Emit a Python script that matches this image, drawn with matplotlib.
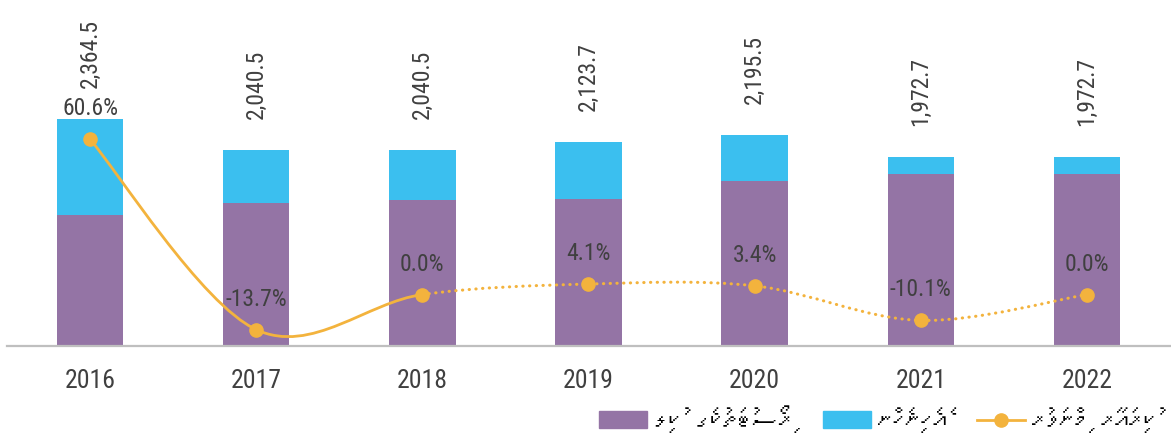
import matplotlib
matplotlib.use('Agg')
import matplotlib.pyplot as plt
from matplotlib import font_manager
from matplotlib.ft2font import FT2Font
from matplotlib.path import Path
from matplotlib.patches import PathPatch, Patch
from matplotlib.lines import Line2D
import numpy as np

# ---------------- data ----------------
years = ['2016', '2017', '2018', '2019', '2020', '2021', '2022']
resort_rent = [1360.0, 1486.0, 1524.0, 1534.0, 1719.0, 1795.0, 1795.0]
other_income = [1004.5, 554.5, 516.5, 589.7, 476.5, 177.7, 177.7]
total_labels = ['2,364.5', '2,040.5', '2,040.5', '2,123.7', '2,195.5', '1,972.7', '1,972.7']
growth = [60.6, -13.7, 0.0, 4.1, 3.4, -10.1, 0.0]
growth_labels = ['60.6%', '-13.7%', '0.0%', '4.1%', '3.4%', '-10.1%', '0.0%']
legend_labels = ['ރިސޯޓުތަކުގެ ކުލި', 'އެހެނިހެން', 'ކުރިއަރާ މިންވަރު']
solid_segments = 2  # first two segments of the growth line are solid, the rest dotted

# ---------------- style ----------------
PURPLE = '#9474A5'
CYAN = '#3BBFEF'
ORANGE = '#F3B33D'
TEXT = '#404040'
AXIS = '#BFBFBF'

names = {f.name for f in font_manager.fontManager.ttflist}
num_font = 'DejaVu Sans'
for cand in ['Roboto Condensed', 'Liberation Sans Narrow', 'Roboto']:
    if cand in names:
        num_font = cand
        break


def find_font_with(ch):
    code = ord(ch)
    for f in font_manager.fontManager.ttflist:
        try:
            if code in FT2Font(f.fname).get_charmap():
                return f.name
        except Exception:
            pass
    return None


thaana_font = find_font_with('\u0786')


def rtl_visual(s):
    # reverse grapheme clusters (base + following Thaana vowel signs)
    clusters = []
    for ch in s:
        if clusters and 0x07A6 <= ord(ch) <= 0x07B0:
            clusters[-1] += ch
        else:
            clusters.append(ch)
    return ''.join(reversed(clusters))


if thaana_font:
    shown_labels = [rtl_visual(t) for t in legend_labels]
    legend_family = [thaana_font, 'DejaVu Sans']
else:
    shown_labels = legend_labels
    legend_family = ['DejaVu Sans']

plt.rcParams['font.family'] = [num_font, 'DejaVu Sans']

W, H = 1171, 435
fig = plt.figure(figsize=(W / 100, H / 100), dpi=100)
ax = fig.add_axes([7 / W, 88 / H, 1163 / W, 342 / H])

x = np.arange(len(years))
ax.bar(x, resort_rent, width=0.4, color=PURPLE, zorder=2)
ax.bar(x, other_income, bottom=resort_rent, width=0.4, color=CYAN, zorder=2)
ax.set_xlim(-0.5, len(years) - 0.5)
ax.set_ylim(0, 3562)
for s in ['left', 'right', 'top']:
    ax.spines[s].set_visible(False)
ax.spines['bottom'].set_color(AXIS)
ax.spines['bottom'].set_linewidth(1.6)
ax.set_yticks([])
ax.set_xticks(x)
ax.set_xticklabels(years)
ax.tick_params(axis='x', length=0, pad=16, labelsize=18.5, labelcolor=TEXT)

tops = np.array(resort_rent) + np.array(other_income)
for xi, t, lab in zip(x, tops, total_labels):
    ax.annotate(lab, (xi, t), xytext=(0, 23), textcoords='offset points',
                rotation=90, ha='center', va='bottom', fontsize=17, color=TEXT)

ax2 = ax.twinx()
ax2.set_ylim(-20.1, 113.5)
ax2.set_axis_off()

pts = np.column_stack([x, growth]).astype(float)
n = len(pts)
segs = []
for i in range(n - 1):
    p0 = pts[i - 1] if i > 0 else pts[i]
    p1 = pts[i]
    p2 = pts[i + 1]
    p3 = pts[i + 2] if i + 2 < n else pts[i + 1]
    c1 = p1 + (p2 - p0) / 6.0
    c2 = p2 - (p3 - p1) / 6.0
    segs.append((p1, c1, c2, p2))


def make_path(seglist):
    verts = [seglist[0][0]]
    codes = [Path.MOVETO]
    for p1, c1, c2, p2 in seglist:
        verts += [c1, c2, p2]
        codes += [Path.CURVE4] * 3
    return Path(np.array(verts), codes)


ax2.add_patch(PathPatch(make_path(segs[:solid_segments]), fill=False, edgecolor=ORANGE,
                        lw=2.0, capstyle='round', zorder=3))
ax2.add_patch(PathPatch(make_path(segs[solid_segments:]), fill=False, edgecolor=ORANGE,
                        lw=2.2, linestyle=(0, (0.1, 2.1)), capstyle='round', zorder=3))
ax2.plot(x, growth, 'o', ms=9.5, color=ORANGE, mec=ORANGE, ls='none', zorder=4)
for xi, g, lab in zip(x, growth, growth_labels):
    ax2.annotate(lab, (xi, g), xytext=(0, 18), textcoords='offset points',
                 ha='center', va='baseline', fontsize=17, color=TEXT, zorder=5)

handles = [Patch(color=PURPLE), Patch(color=CYAN),
           Line2D([], [], color=ORANGE, lw=2, marker='o', ms=9.5)]
fig.legend(handles, shown_labels, loc='lower right', bbox_to_anchor=(1.0, -0.028),
           ncol=3, frameon=False, prop={'family': legend_family, 'size': 20},
           handlelength=1.73, handleheight=0.61, handletextpad=0.25, columnspacing=1.08,
           borderaxespad=0.1)

fig.savefig('out.png', dpi=100)
